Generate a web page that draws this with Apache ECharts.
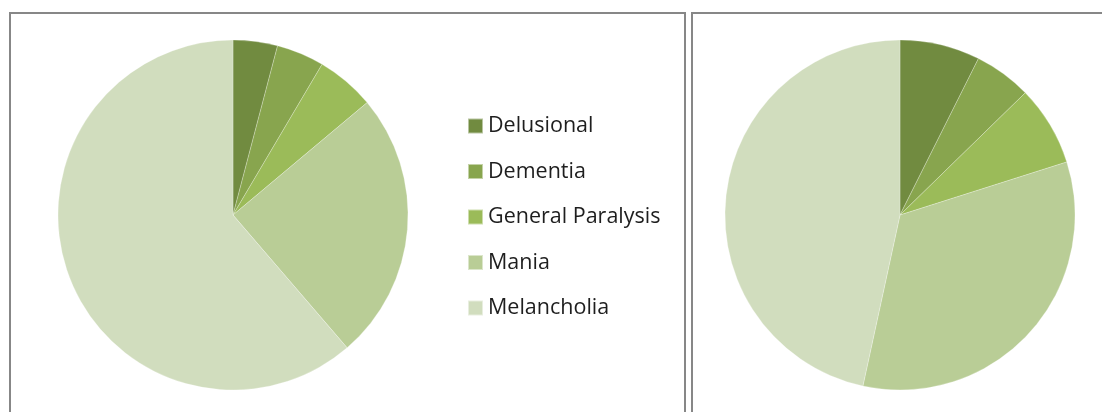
<!DOCTYPE html>
<html>
<head>
<meta charset="utf-8">
<script src="https://cdn.jsdelivr.net/npm/echarts@6/dist/echarts.min.js"></script>
<style>
  html, body { margin: 0; padding: 0; background: #fff; }
  #chart { width: 1102px; height: 412px; }
</style>
</head>
<body>
<div id="chart"></div>
<script>
const categories = ['Delusional', 'Dementia', 'General Paralysis', 'Mania', 'Melancholia']
const leftValues = [4.1, 4.4, 5.4, 24.8, 61.3]
const rightValues = [7.4, 5.3, 7.4, 33.3, 46.6]
const colors = ['#718b40', '#88a54e', '#9bbb59', '#b9cd96', '#d1ddbe']

const toData = vals => vals.map((v, i) => ({ value: v, name: categories[i] }))

const pieBase = {
  type: 'pie',
  radius: 175,
  startAngle: 90,
  label: { show: false },
  labelLine: { show: false },
  emphasis: { disabled: true },
  itemStyle: { borderColor: 'rgba(255,255,255,0.5)', borderWidth: 0.5 }
}

const chart = echarts.init(document.getElementById('chart'))
chart.setOption({
  backgroundColor: '#fff',
  color: colors,
  animation: false,
  legend: {
    orient: 'vertical',
    left: 462,
    top: 110,
    itemWidth: 15,
    itemHeight: 15,
    itemGap: 23.5,
    icon: 'rect',
    textStyle: { fontFamily: 'Open Sans', fontSize: 21.5, color: '#1e1e1e', lineHeight: 22 },
    data: categories
  },
  graphic: [
    { type: 'rect', shape: { x: 10, y: 13, width: 675, height: 420 }, style: { fill: 'none', stroke: '#878787', lineWidth: 2 } },
    { type: 'rect', shape: { x: 692, y: 13, width: 430, height: 420 }, style: { fill: 'none', stroke: '#878787', lineWidth: 2 } }
  ],
  series: [
    Object.assign({}, pieBase, { center: [233, 215], data: toData(leftValues) }),
    Object.assign({}, pieBase, { center: [900, 215], data: toData(rightValues) })
  ]
})
</script>
</body>
</html>
